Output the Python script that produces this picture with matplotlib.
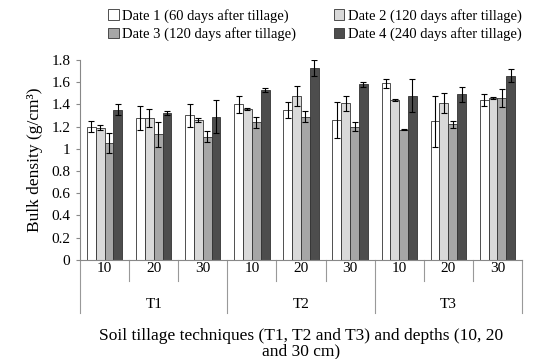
import numpy as np
import matplotlib.pyplot as plt
from matplotlib.patches import Patch

# ======================
# DATA
# ======================
tillages = ["T1", "T2", "T3"]
depths = ["10", "20", "30"]
dates = ["Date 1 (60 days after tillage)", "Date 2 (120 days after tillage)",
         "Date 3 (120 days after tillage)", "Date 4 (240 days after tillage)"]

# order: T1-10, T1-20, T1-30, T2-10, ..., T3-30
date1 = [1.20, 1.28, 1.30, 1.40, 1.35, 1.26, 1.59, 1.25, 1.44]
date2 = [1.19, 1.28, 1.26, 1.36, 1.48, 1.41, 1.44, 1.41, 1.46]
date3 = [1.05, 1.13, 1.11, 1.24, 1.29, 1.20, 1.17, 1.22, 1.46]
date4 = [1.35, 1.32, 1.29, 1.53, 1.73, 1.58, 1.48, 1.49, 1.66]

err1 = [0.05, 0.11, 0.10, 0.08, 0.07, 0.16, 0.04, 0.23, 0.05]
err2 = [0.02, 0.08, 0.02, 0.01, 0.09, 0.07, 0.005, 0.09, 0.01]
err3 = [0.09, 0.11, 0.05, 0.05, 0.05, 0.04, 0.005, 0.03, 0.08]
err4 = [0.05, 0.02, 0.15, 0.02, 0.07, 0.02, 0.15, 0.07, 0.06]

colors = ["#ffffff", "#d9d9d9", "#a6a6a6", "#4d4d4d"]

plt.rcParams["font.family"] = ["Liberation Serif", "DejaVu Serif"]

fig = plt.figure(figsize=(5.6, 3.59), dpi=100)
ax = fig.add_axes([0.143, 0.276, 0.789, 0.557])

x = np.arange(len(date1))
w = 0.18
values = [date1, date2, date3, date4]
errors = [err1, err2, err3, err4]
handles = []
for i in range(4):
    ax.bar(x + (i - 1.5) * w, values[i], w, color=colors[i], edgecolor="#333333",
           linewidth=0.6, yerr=errors[i], capsize=2.5,
           error_kw=dict(elinewidth=0.8, capthick=0.8, ecolor="black"))
    handles.append(Patch(facecolor=colors[i], edgecolor="#333333", linewidth=0.6))

ax.set_xlim(-0.5, len(date1) - 0.5)
ax.set_ylim(0, 1.8)
ax.set_yticks(np.arange(0, 1.81, 0.2))
ax.set_yticklabels(["0", "0.2", "0.4", "0.6", "0.8", "1", "1.2", "1.4", "1.6", "1.8"])
ax.tick_params(axis="y", labelsize=11, length=3, color="#888888", pad=4)
ax.set_xticks([])
for s in ["top", "right"]:
    ax.spines[s].set_visible(False)
ax.spines["left"].set_color("#888888")
ax.spines["bottom"].set_color("#888888")

# multi-level category axis
trans = ax.get_xaxis_transform()
for k in range(len(date1)):
    ax.text(k, -0.045, depths[k % 3], transform=trans, ha="center", va="center", fontsize=11)
for k in range(len(date1) + 1):
    bound = k - 0.5
    low = -0.265 if k % 3 == 0 else -0.105
    ax.plot([bound, bound], [0, low], transform=trans, color="#999999",
            linewidth=0.8, clip_on=False)
for g, t in enumerate(tillages):
    ax.text(3 * g + 1, -0.225, t, transform=trans, ha="center", va="center", fontsize=11)

ax.set_ylabel("Bulk density (g/cm³)", fontsize=12.5, labelpad=6)
ax.text(0.5, -0.34, "Soil tillage techniques (T1, T2 and T3) and depths (10, 20\nand 30 cm)",
        transform=ax.transAxes, ha="center", va="top", fontsize=12.5, linespacing=0.95)

order = [0, 2, 1, 3]
fig.legend([handles[i] for i in order], [dates[i] for i in order], ncol=2,
           loc="upper left", bbox_to_anchor=(0.178, 1.0), frameon=False, fontsize=10.5,
           handlelength=0.7, handleheight=0.7, handletextpad=0.25, columnspacing=2.6,
           labelspacing=0.3, borderaxespad=0.2)

fig.savefig("out.png", dpi=100)
